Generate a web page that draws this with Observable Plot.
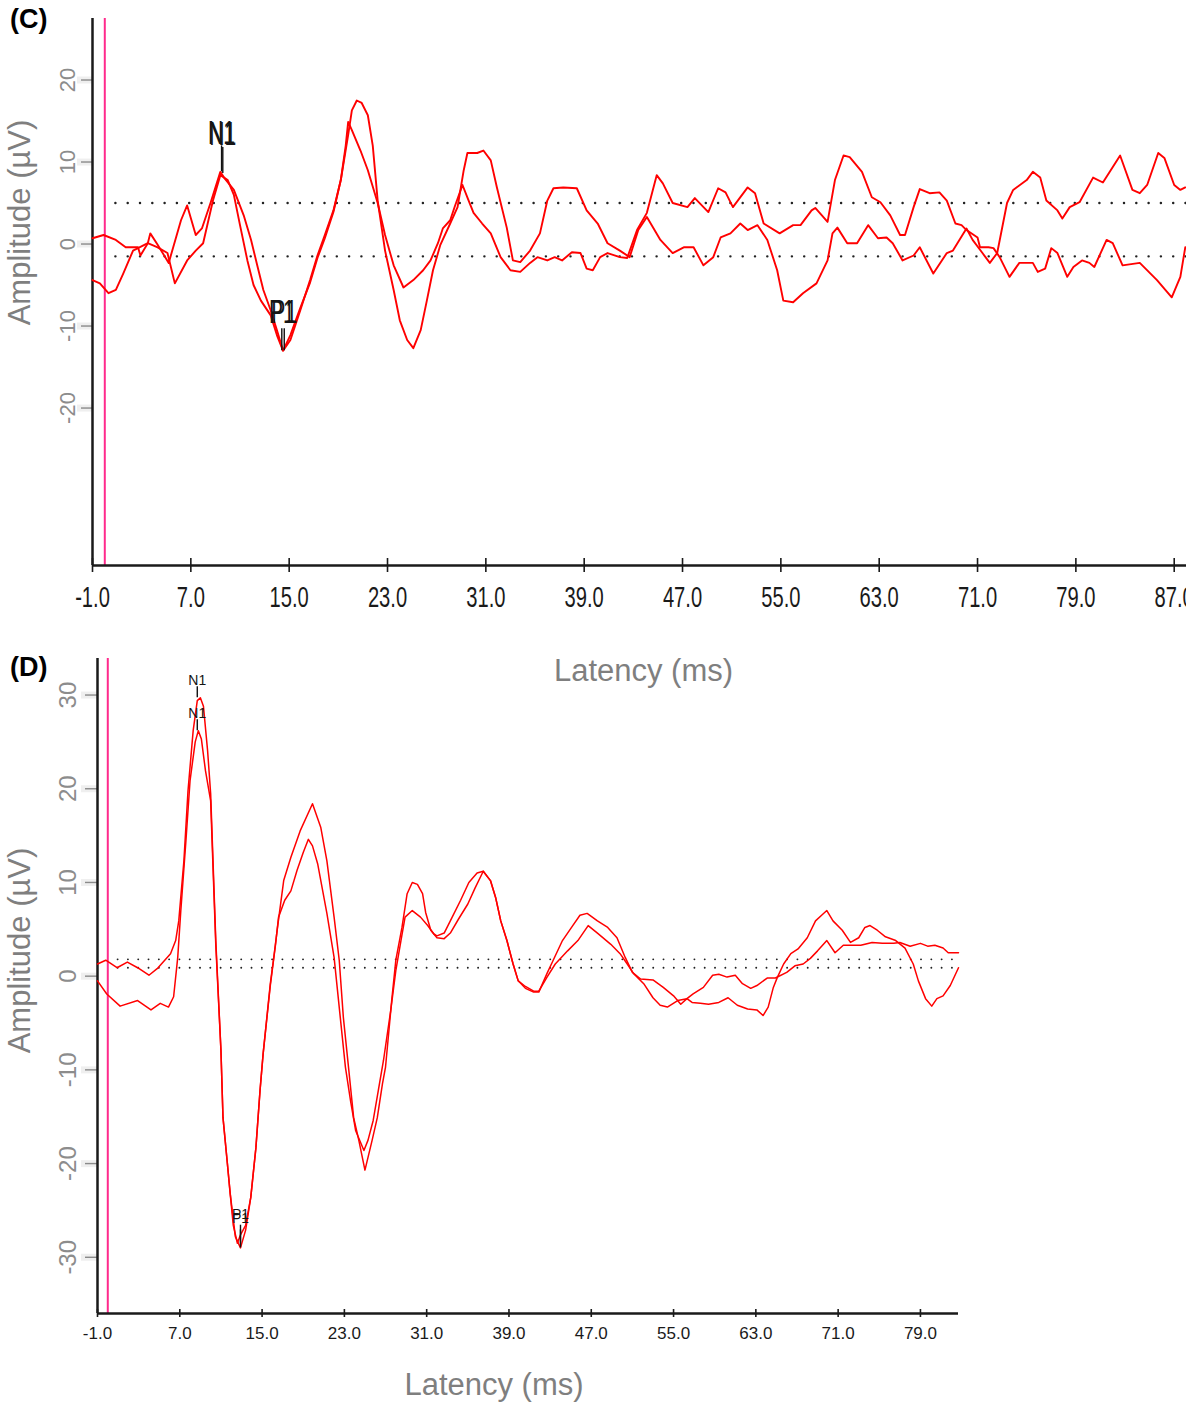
<!DOCTYPE html>
<html>
<head>
<meta charset="utf-8">
<script src="https://cdn.jsdelivr.net/npm/d3@7"></script>
<script src="https://cdn.jsdelivr.net/npm/@observablehq/plot@0.6"></script>
<style>
  body { margin: 0; background: #fff; }
  #page { position: relative; width: 1194px; height: 1405px; overflow: hidden; background: #fff; }
  #page svg { position: absolute; left: 0; }
  .panel-tag { position: absolute; left: 10px; font: bold 27px "Liberation Sans", Arial, sans-serif; color: #000; }
</style>
</head>
<body>
<div id="page">
  <div class="panel-tag" style="top:4px">(C)</div>
  <div class="panel-tag" style="top:652px">(D)</div>
</div>
<script>
// Averaged evoked responses: [latency (ms), amplitude (µV)] for two runs per panel.
const stimulusOnset = 0;

// Panel C
const cLatencyTicks = [-1, 7, 15, 23, 31, 39, 47, 55, 63, 71, 79, 87];
const cAmplitudeTicks = [-20, -10, 0, 10, 20];
const cBaselines = [5.0, -1.5];
const cRunA = [[-1.0,0.7],[-0.1,1.1],[0.9,0.5],[1.7,-0.4],[2.7,-0.4],[2.9,-1.4],[3.5,0.1],[3.7,1.3],[4.3,-0.1],[5.2,-2.3],[6.2,2.9],[6.7,4.7],[7.4,1.1],[7.9,1.9],[8.6,5.0],[9.4,8.8],[9.7,8.1],[10.5,6.6],[11.3,3.5],[11.9,0.5],[12.4,-2.6],[12.9,-5.6],[13.5,-8.1],[14.0,-10.5],[14.5,-13.0],[15.1,-11.7],[15.9,-8.1],[16.7,-4.4],[17.3,-1.4],[17.9,1.1],[18.6,4.1],[19.2,7.8],[19.8,13.3],[20.1,16.3],[20.5,17.5],[20.9,17.2],[21.4,15.7],[21.8,12.0],[22.2,5.3],[22.8,-0.8],[23.5,-5.6],[24.0,-9.3],[24.6,-11.7],[25.1,-12.7],[25.7,-10.5],[26.2,-6.9],[26.7,-3.2],[27.3,-0.1],[28.1,2.5],[28.7,4.5],[29.2,9.0],[29.5,11.1],[30.3,11.1],[30.8,11.4],[31.4,10.2],[31.9,6.9],[32.7,2.0],[33.2,-2.0],[33.8,-2.2],[34.6,-0.8],[35.4,1.3],[36.0,5.3],[36.5,6.8],[37.3,6.9],[38.4,6.8],[39.2,4.1],[40.1,2.5],[40.9,0.1],[41.9,-0.8],[42.7,-1.6],[43.4,1.7],[44.1,3.3],[45.2,0.5],[46.2,-1.1],[47.1,-0.4],[47.9,-0.4],[48.7,-2.6],[49.5,-1.6],[50.1,0.8],[50.9,1.3],[51.7,2.5],[52.3,1.7],[53.1,2.3],[53.9,0.5],[54.7,-3.2],[55.2,-6.9],[56.0,-7.1],[56.8,-6.0],[57.9,-4.8],[58.8,-2.0],[59.2,1.3],[59.6,2.0],[60.4,0.1],[61.2,0.1],[62.1,2.3],[62.9,0.7],[63.6,0.8],[64.1,0.1],[64.9,-2.0],[65.8,-1.4],[66.3,-0.4],[67.4,-3.6],[68.5,-1.1],[69.0,-0.8],[70.1,1.9],[70.6,0.5],[71.4,-1.1],[72.0,-2.3],[72.6,-1.1],[73.4,5.0],[73.9,6.6],[75.0,7.8],[75.5,8.8],[76.1,8.1],[76.6,5.3],[77.5,4.1],[77.9,3.1],[78.5,4.5],[79.3,5.1],[80.4,8.1],[81.2,7.5],[82.6,10.8],[83.6,6.6],[84.2,6.2],[84.8,7.2],[85.7,11.1],[86.2,10.5],[87.0,7.2],[87.5,6.6],[87.9,6.9]];
const cRunB = [[-1.0,-4.4],[-0.4,-4.8],[0.3,-6.0],[0.9,-5.6],[1.5,-3.6],[2.3,-0.8],[3.5,0.1],[4.3,-0.4],[5.1,-1.1],[5.7,-4.8],[6.7,-2.0],[7.4,-0.8],[8.0,0.1],[8.8,5.3],[9.4,8.4],[10.0,7.8],[10.5,6.0],[11.0,2.3],[11.6,-2.0],[12.1,-5.0],[12.7,-6.9],[13.5,-8.7],[14.0,-11.1],[14.5,-13.0],[15.1,-11.1],[15.9,-7.8],[16.7,-4.7],[17.3,-1.7],[17.9,0.7],[18.6,3.9],[19.2,7.8],[19.6,12.0],[19.8,14.9],[20.1,13.9],[20.8,11.4],[21.4,9.0],[22.2,5.0],[22.8,1.1],[23.5,-2.6],[24.3,-5.3],[25.1,-4.4],[25.9,-3.2],[26.5,-2.0],[27.1,0.1],[27.5,1.9],[28.1,2.9],[28.5,4.7],[29.1,7.2],[29.6,5.3],[30.0,3.8],[30.7,2.5],[31.4,1.3],[32.2,-1.6],[33.0,-3.2],[33.8,-3.4],[34.6,-2.3],[35.2,-1.6],[36.0,-2.0],[36.6,-1.6],[37.2,-2.0],[38.0,-1.0],[38.7,-1.1],[39.2,-3.0],[39.7,-3.2],[40.3,-1.6],[40.9,-1.1],[41.9,-1.6],[42.5,-1.7],[43.3,1.7],[44.1,3.8],[44.9,8.4],[45.4,7.4],[46.2,5.0],[47.4,4.5],[48.0,5.6],[49.1,3.9],[49.9,6.8],[50.5,6.3],[51.1,4.5],[52.3,6.9],[52.9,6.2],[53.6,2.5],[54.9,1.3],[56.0,2.3],[56.6,2.3],[57.5,4.1],[57.8,4.4],[58.8,2.7],[59.4,7.8],[60.1,10.8],[60.6,10.6],[61.6,8.8],[62.4,5.7],[63.1,5.1],[63.9,3.5],[64.7,1.1],[65.1,1.1],[65.8,4.5],[66.3,6.7],[67.1,6.2],[67.9,6.3],[68.5,5.3],[69.2,2.5],[69.7,2.3],[70.1,1.7],[71.0,0.8],[71.2,-0.4],[71.9,-0.4],[72.3,-0.5],[72.8,-1.6],[73.6,-4.0],[74.4,-2.3],[75.5,-2.3],[75.9,-3.4],[76.5,-3.0],[77.0,-0.5],[77.5,-1.1],[78.3,-4.0],[78.8,-2.8],[79.5,-2.0],[80.1,-2.3],[80.5,-2.8],[81.5,0.5],[82.0,0.1],[82.8,-2.6],[84.2,-2.3],[85.6,-4.4],[86.8,-6.5],[87.5,-4.0],[87.9,-0.4]];
const cPeaks = [
  {label: "N1", latency: 9.5, amplitude: 8.8},
  {label: "N1", latency: 9.6, amplitude: 8.6},
  {label: "P1", latency: 14.4, amplitude: -13.0},
  {label: "P1", latency: 14.6, amplitude: -13.0}
];

// Panel D
const dLatencyTicks = [-1, 7, 15, 23, 31, 39, 47, 55, 63, 71, 79];
const dAmplitudeTicks = [-30, -20, -10, 0, 10, 20, 30];
const dBaselines = [1.8, 0.9];
const dRunA = [[-1.0,1.3],[-0.2,1.7],[0.9,0.9],[1.9,1.5],[2.9,0.9],[4.0,0.1],[4.8,0.8],[6.1,2.4],[6.6,3.8],[6.9,5.9],[7.4,12.3],[7.8,19.8],[8.3,26.2],[8.7,29.4],[9.0,29.7],[9.3,28.8],[9.7,24.1],[10.0,19.5],[10.5,3.8],[11.0,-7.9],[11.2,-15.1],[11.6,-19.7],[11.9,-23.2],[12.4,-27.8],[12.9,-29.0],[13.4,-27.1],[13.9,-23.6],[14.4,-18.3],[14.8,-12.2],[15.1,-8.3],[15.8,-0.8],[16.1,1.7],[16.5,5.2],[17.1,10.2],[17.8,12.7],[18.7,15.5],[19.9,18.4],[20.7,15.9],[21.3,12.3],[22.0,6.3],[22.5,1.7],[22.9,-4.4],[23.4,-9.7],[23.9,-15.1],[24.4,-17.5],[25.0,-20.7],[25.7,-17.5],[26.2,-15.1],[26.7,-11.5],[27.0,-9.7],[27.6,-2.6],[28.0,1.7],[28.6,5.2],[29.1,8.8],[29.6,10.0],[30.1,9.8],[30.6,8.8],[30.9,6.8],[31.4,4.9],[32.0,4.1],[32.7,4.0],[33.3,4.6],[34.1,6.1],[35.0,7.7],[35.7,9.4],[36.5,11.2],[37.2,10.2],[37.7,8.4],[38.2,5.9],[38.8,3.8],[39.4,1.3],[39.9,-0.5],[40.6,-1.3],[41.4,-1.7],[41.9,-1.7],[42.7,0.3],[43.3,1.7],[44.2,3.8],[45.2,5.4],[45.9,6.5],[46.6,6.7],[47.6,5.9],[48.6,5.2],[49.5,4.1],[50.3,2.0],[51.0,0.4],[51.8,-0.3],[53.0,-0.4],[54.0,-1.2],[55.0,-2.1],[55.7,-3.0],[56.3,-2.4],[56.9,-1.9],[57.9,-1.2],[58.8,0.1],[59.4,0.2],[60.2,-0.1],[61.0,0.1],[61.7,-0.8],[62.5,-1.3],[63.1,-1.0],[64.1,-0.2],[64.9,-0.2],[66.0,0.4],[66.8,1.1],[67.6,1.3],[68.3,1.9],[69.0,2.7],[69.9,3.8],[70.7,2.5],[71.5,3.3],[73.2,3.3],[74.3,3.6],[75.3,3.5],[76.4,3.5],[77.0,3.6],[78.0,3.2],[79.0,3.5],[79.7,3.2],[80.4,3.3],[81.2,3.0],[81.7,2.5],[82.7,2.5]];
const dRunB = [[-1.0,-0.5],[-0.1,-1.9],[1.2,-3.2],[2.9,-2.6],[4.2,-3.6],[5.1,-2.9],[5.9,-3.3],[6.4,-2.2],[6.8,2.0],[7.1,7.0],[7.6,14.5],[8.0,20.9],[8.5,25.0],[8.8,26.2],[9.1,25.3],[9.5,21.9],[10.0,18.7],[10.5,3.3],[11.0,-7.9],[11.2,-15.1],[11.6,-19.7],[11.9,-23.2],[12.2,-26.6],[12.6,-28.5],[12.9,-27.6],[13.4,-26.6],[13.9,-23.6],[14.4,-18.3],[14.8,-12.2],[15.1,-8.3],[15.8,-1.0],[16.3,3.3],[16.6,6.3],[17.2,8.1],[17.8,9.1],[18.4,11.3],[19.0,13.2],[19.5,14.6],[19.9,13.9],[20.4,12.0],[21.3,6.7],[22.0,2.0],[22.6,-4.4],[23.1,-9.7],[23.6,-13.3],[24.1,-16.5],[24.9,-18.6],[25.3,-17.5],[25.8,-15.4],[26.3,-12.2],[26.8,-9.0],[27.5,-3.7],[28.0,0.6],[28.5,3.8],[28.9,6.3],[29.6,7.0],[30.4,6.3],[31.1,5.4],[31.7,4.5],[32.0,4.3],[32.7,4.6],[33.3,5.9],[34.3,8.1],[35.1,10.0],[35.9,11.0],[36.5,11.2],[37.2,10.2],[37.7,8.4],[38.2,5.9],[38.8,3.8],[39.4,1.3],[39.9,-0.5],[40.6,-1.1],[41.4,-1.6],[41.9,-1.6],[42.7,-0.1],[43.5,1.3],[44.7,2.7],[45.7,3.8],[46.7,5.4],[47.6,4.6],[48.9,3.4],[49.8,2.4],[50.5,1.3],[51.1,0.3],[52.1,-0.8],[53.0,-2.3],[53.7,-3.1],[54.4,-3.3],[55.4,-2.6],[56.3,-2.4],[56.8,-2.8],[57.6,-2.9],[58.4,-3.0],[59.4,-2.8],[60.3,-2.3],[61.2,-3.1],[62.2,-3.5],[63.1,-3.6],[63.7,-4.2],[64.2,-3.3],[64.7,-1.2],[65.1,-0.1],[65.7,1.3],[66.4,2.4],[67.1,2.9],[68.0,4.1],[68.8,5.9],[69.5,6.6],[69.9,7.0],[70.5,5.9],[71.4,4.9],[72.2,3.6],[73.0,4.1],[73.6,5.2],[74.1,5.4],[74.8,4.9],[75.6,4.2],[76.6,3.8],[77.5,3.0],[78.3,1.3],[78.8,-0.5],[79.5,-2.4],[80.1,-3.2],[80.6,-2.4],[81.2,-2.1],[81.9,-1.0],[82.7,0.9]];
const dPeaks = [
  {label: "N1", latency: 8.7, amplitude: 29.7},
  {label: "N1", latency: 8.7, amplitude: 26.2},
  {label: "P1", latency: 12.9, amplitude: -29.0},
  {label: "P1", latency: 12.9, amplitude: -28.5}
];

const sans = "'Liberation Sans', Arial, sans-serif";
const traceRed = "#ff0000";

// squeeze matching glyph runs horizontally about their own centre (narrow typeface look)
function condense(svg, pattern, sx) {
  svg.querySelectorAll("text").forEach(t => {
    if (!pattern.test(t.textContent.trim())) return;
    const b = t.getBBox();
    const cx = b.x + b.width / 2, cy = b.y + b.height / 2;
    const tr = t.getAttribute("transform") || "";
    t.setAttribute("transform", `${tr} translate(${cx},${cy}) scale(${sx},1.08) translate(${-cx},${-cy})`);
  });
}

function erpPanel(o) {
  const marks = [
    // grey y ticks with their soft halo
    Plot.axisY(o.yTicks, {tickSize: o.yTickSize + 4, strokeWidth: 7, stroke: "#999", strokeOpacity: 0.16, tickFormat: () => "", label: null}),
    Plot.axisY(o.yTicks, {tickSize: o.yTickSize, strokeWidth: 1.4, stroke: "#8a8a8a", tickFormat: () => "", label: null}),
    Plot.text(o.yTicks, {x: o.xDomain[0], y: d => d, text: d => String(d), rotate: -90, dx: o.yTickDx,
      fill: "#8c8c8c", fontSize: o.yTickFont, fontFamily: sans}),
    // baseline bands
    Plot.ruleY(o.baselines, {x1: o.baselineStart, x2: o.xDomain[1], stroke: "#222", strokeWidth: o.dotWidth,
      strokeDasharray: o.dotDash, strokeLinecap: "round"}),
    // stimulus onset
    Plot.ruleX([stimulusOnset], {stroke: "#ff2a8c", strokeWidth: 2}),
    // axis lines
    Plot.ruleX([o.xDomain[0]], {stroke: "#1a1a1a", strokeWidth: 2.5}),
    Plot.ruleY([o.yDomain[0]], {stroke: "#1a1a1a", strokeWidth: 2.5}),
    Plot.axisX(o.xTicks, {tickSize: 2 * o.xTickHalf, dy: -o.xTickHalf, stroke: "#1a1a1a", strokeWidth: 1.6,
      tickFormat: () => "", label: null}),
    Plot.axisX(o.xTicks, {tickSize: 0, tickPadding: o.xTickPad, tickFormat: d => d.toFixed(1),
      fontSize: o.xTickFont, fontFamily: sans, fill: "#1a1a1a", label: null}),
    // the two runs
    ...o.runs.map(run => Plot.line(run, {x: d => d[0], y: d => d[1], stroke: traceRed, strokeWidth: o.traceWidth})),
    // peak markers
    ...["N1", "P1"].flatMap(name => {
      const peaks = o.peaks.filter(p => p.label === name);
      const st = o.markerStyle[name];
      return [
        Plot.ruleX(peaks, {x: "latency", y1: "amplitude", y2: "amplitude", insetBottom: st.tick, stroke: "#111", strokeWidth: 1.4}),
        Plot.text(peaks, {x: "latency", y: "amplitude", text: "label", dy: st.text, fill: "#151515",
          fontSize: o.markerFont, fontFamily: sans})
      ];
    }),
    // axis titles
    Plot.text(["Amplitude (µV)"], {frameAnchor: "top-left", dx: o.yTitle[0], dy: o.yTitle[1], rotate: -90,
      textAnchor: "middle", lineAnchor: "middle", text: d => d, fontSize: 31, fontFamily: sans, fill: "#7f7f7f"}),
    Plot.text(["Latency (ms)"], {frameAnchor: "bottom", dx: o.xTitle[0], dy: o.xTitle[1],
      textAnchor: "middle", lineAnchor: "middle", text: d => d, fontSize: 31, fontFamily: sans, fill: "#7f7f7f"})
  ];
  const svg = Plot.plot({
    width: o.width, height: o.height,
    marginTop: o.margin[0], marginRight: o.margin[1], marginBottom: o.margin[2], marginLeft: o.margin[3],
    style: {background: "transparent", overflow: o.overflow},
    x: {domain: o.xDomain},
    y: {domain: o.yDomain},
    marks
  });
  svg.style.top = o.top + "px";
  return svg;
}

const page = document.getElementById("page");

const panelC = erpPanel({
  top: 0, width: 1186, height: 700, margin: [18, 0, 135, 92], overflow: "hidden",
  xDomain: [-1, 88], yDomain: [-39.2, 27.5],
  xTicks: cLatencyTicks, yTicks: cAmplitudeTicks, baselines: cBaselines, baselineStart: 0.9,
  runs: [cRunA, cRunB], peaks: cPeaks,
  yTickSize: 11, yTickDx: -25, yTickFont: 22,
  xTickHalf: 7, xTickPad: 21, xTickFont: 28,
  dotWidth: 2.4, dotDash: "0.1,12.2", traceWidth: 1.9,
  markerFont: 31,
  markerStyle: {N1: {tick: 26, text: -39}, P1: {tick: 22, text: -38}},
  yTitle: [-72, 204], xTitle: [4, 106]
});
page.appendChild(panelC);
// narrow lettering for the latency labels and peak names of panel C
condense(panelC, /^-?\d+\.\d$/, 0.72);
condense(panelC, /^[NP]1$/, 0.68);

page.appendChild(erpPanel({
  top: 640, width: 1194, height: 765, margin: [18, 236, 92, 97], overflow: "visible",
  xDomain: [-1, 82.7], yDomain: [-36.0, 33.9],
  xTicks: dLatencyTicks, yTicks: dAmplitudeTicks, baselines: dBaselines, baselineStart: 1.0,
  runs: [dRunA, dRunB], peaks: dPeaks,
  yTickSize: 12, yTickDx: -29, yTickFont: 24,
  xTickHalf: 4, xTickPad: 13, xTickFont: 17,
  dotWidth: 1.8, dotDash: "0.1,10.2", traceWidth: 1.5,
  markerFont: 14,
  markerStyle: {N1: {tick: 11, text: -17}, P1: {tick: 18, text: -29}},
  yTitle: [-77, 292], xTitle: [-34, 72]
}));
</script>
</body>
</html>
